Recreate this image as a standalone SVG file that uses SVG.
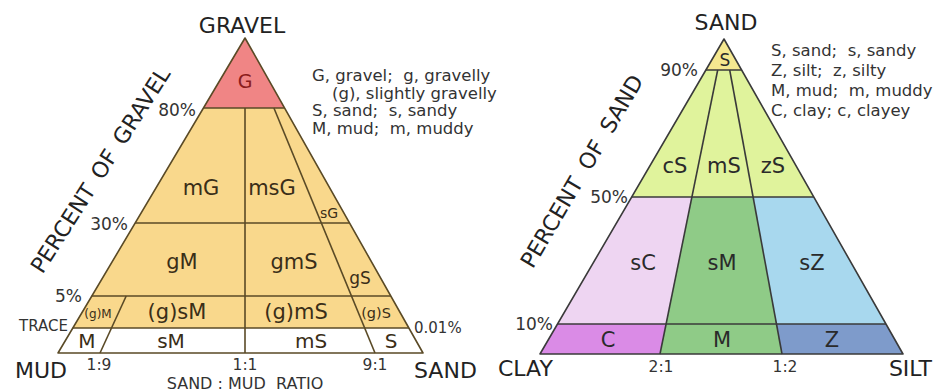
<svg xmlns="http://www.w3.org/2000/svg" width="947" height="392" viewBox="0 0 947 392">
<style>
text{font-family:"DejaVu Sans","Liberation Sans",sans-serif;}
.big{font-size:22px;fill:#222;}
.pct{font-size:17px;fill:#333;}
.leg{font-size:16.5px;fill:#333;}
.lab{font-size:21px;fill:#3a2e18;text-anchor:middle;}
.labr{font-size:21px;fill:#2a2a2a;text-anchor:middle;}
.sm{font-size:15.5px;fill:#333;text-anchor:middle;}
.ll{fill:none;stroke:#5a4a26;stroke-width:1.6;stroke-linejoin:round;}
.rl{fill:none;stroke:#3a3a3a;stroke-width:1.6;stroke-linejoin:round;}
</style>
<rect width="947" height="392" fill="#ffffff"/>

<!-- LEFT TRIANGLE: gravel-sand-mud -->
<g id="left-triangle">
  <g id="region-G"><polygon points="245,38 284.6,108 203.4,108" fill="#F08585"/></g>
  <g id="region-gravelly"><polygon points="203.4,108 284.6,108 408.9,328 72.8,328" fill="#F9D88C"/></g>
  <g id="left-lines">
    <polygon class="ll" points="245,38 423,353 58,353"/>
    <line class="ll" x1="203.4" y1="108" x2="284.6" y2="108"/>
    <line class="ll" x1="135.2" y1="223" x2="349.5" y2="223"/>
    <line class="ll" x1="91.8" y1="296" x2="390.8" y2="296"/>
    <line class="ll" x1="72.8" y1="328" x2="408.9" y2="328"/>
    <line class="ll" x1="245" y1="108" x2="245" y2="353"/>
    <line class="ll" x1="273.9" y1="108" x2="375" y2="353"/>
    <line class="ll" x1="126.2" y1="296" x2="100" y2="353"/>
  </g>
  <g id="left-labels">
    <text x="245" y="88" style="font-size:19px" fill="#8b1c1c" text-anchor="middle">G</text>
    <text class="lab" x="201" y="195">mG</text>
    <text class="lab" x="272" y="195">msG</text>
    <text class="lab" x="329" y="218" style="font-size:14px">sG</text>
    <text class="lab" x="182" y="269">gM</text>
    <text class="lab" x="294" y="269">gmS</text>
    <text class="lab" x="360" y="284" style="font-size:17px">gS</text>
    <text class="lab" x="177" y="319">(g)sM</text>
    <text class="lab" x="296" y="319">(g)mS</text>
    <text class="lab" x="376" y="318" style="font-size:14.5px">(g)S</text>
    <text class="lab" x="98" y="318" style="font-size:12px">(g)M</text>
    <text class="lab" x="87" y="348" style="font-size:20px">M</text>
    <text class="lab" x="171" y="348" style="font-size:20px">sM</text>
    <text class="lab" x="311" y="348" style="font-size:20px">mS</text>
    <text class="lab" x="391" y="348" style="font-size:20px">S</text>
  </g>
  <g id="left-axis">
    <text class="big" x="242" y="33" text-anchor="middle">GRAVEL</text>
    <text class="big" transform="translate(106.7,174.3) rotate(-57.4)" text-anchor="middle" word-spacing="4">PERCENT OF GRAVEL</text>
    <text class="pct" x="196" y="116" text-anchor="end">80%</text>
    <text class="pct" x="128" y="230" text-anchor="end">30%</text>
    <text class="pct" x="82" y="302" text-anchor="end">5%</text>
    <text class="pct" x="68" y="331" text-anchor="end" style="font-size:15px">TRACE</text>
    <text class="pct" x="414" y="333" style="font-size:15px">0.01%</text>
    <text class="big" x="15" y="378">MUD</text>
    <text class="big" x="414" y="378">SAND</text>
    <text class="sm" x="99" y="370">1:9</text>
    <text class="sm" x="245" y="370">1:1</text>
    <text class="sm" x="375" y="370">9:1</text>
    <text class="pct" x="245" y="389" text-anchor="middle" style="font-size:16px" xml:space="preserve">SAND : MUD  RATIO</text>
  </g>
  <g id="left-legend">
    <text class="leg" x="312" y="81" xml:space="preserve">G, gravel;  g, gravelly</text>
    <text class="leg" x="332" y="98.5">(g), slightly gravelly</text>
    <text class="leg" x="312" y="116" xml:space="preserve">S, sand;  s, sandy</text>
    <text class="leg" x="312" y="133.5" xml:space="preserve">M, mud;  m, muddy</text>
  </g>
</g>

<!-- RIGHT TRIANGLE: sand-silt-clay -->
<g id="right-triangle">
  <g id="region-S"><polygon points="724,39 741.6,70 705.9,70" fill="#F5E890"/></g>
  <g id="region-sandy"><polygon points="705.9,70 741.6,70 813.8,197 631.7,197" fill="#E0F39C"/></g>
  <g id="region-sC"><polygon points="631.7,197 691.9,197 666.1,324 557.5,324" fill="#EED5F2"/></g>
  <g id="region-sM"><polygon points="691.9,197 753.1,197 776.5,324 666.1,324" fill="#8FCB87"/></g>
  <g id="region-sZ"><polygon points="753.1,197 813.8,197 886,324 776.5,324" fill="#A8D8EE"/></g>
  <g id="region-C"><polygon points="557.5,324 666.1,324 660,354 540,354" fill="#DA8BE6"/></g>
  <g id="region-M"><polygon points="666.1,324 776.5,324 782,354 660,354" fill="#8FCB87"/></g>
  <g id="region-Z"><polygon points="776.5,324 886,324 903,354 782,354" fill="#7E9BCB"/></g>
  <g id="right-lines">
    <polygon class="rl" points="724,39 903,354 540,354"/>
    <line class="rl" x1="705.9" y1="70" x2="741.6" y2="70"/>
    <line class="rl" x1="631.7" y1="197" x2="813.8" y2="197"/>
    <line class="rl" x1="557.5" y1="324" x2="886" y2="324"/>
    <line class="rl" x1="717.7" y1="70" x2="660" y2="354"/>
    <line class="rl" x1="729.7" y1="70" x2="782" y2="354"/>
  </g>
  <g id="right-labels">
    <text class="labr" x="725" y="66" style="font-size:17px">S</text>
    <text class="labr" x="675" y="173">cS</text>
    <text class="labr" x="724" y="173">mS</text>
    <text class="labr" x="773" y="173">zS</text>
    <text class="labr" x="643" y="270">sC</text>
    <text class="labr" x="722" y="270">sM</text>
    <text class="labr" x="812" y="270">sZ</text>
    <text class="labr" x="608" y="347">C</text>
    <text class="labr" x="722" y="347">M</text>
    <text class="labr" x="832" y="347">Z</text>
  </g>
  <g id="right-axis">
    <text class="big" x="726" y="30" text-anchor="middle">SAND</text>
    <text class="big" transform="translate(588.4,175.1) rotate(-59.5)" text-anchor="middle" word-spacing="6">PERCENT OF SAND</text>
    <text class="pct" x="698" y="76" text-anchor="end">90%</text>
    <text class="pct" x="628" y="203" text-anchor="end">50%</text>
    <text class="pct" x="553" y="330" text-anchor="end">10%</text>
    <text class="big" x="498" y="376">CLAY</text>
    <text class="big" x="932" y="376" text-anchor="end">SILT</text>
    <text class="sm" x="661" y="372">2:1</text>
    <text class="sm" x="785" y="372">1:2</text>
  </g>
  <g id="right-legend">
    <text class="leg" x="771" y="56" xml:space="preserve">S, sand;  s, sandy</text>
    <text class="leg" x="771" y="76" xml:space="preserve">Z, silt;  z, silty</text>
    <text class="leg" x="771" y="96" xml:space="preserve">M, mud;  m, muddy</text>
    <text class="leg" x="771" y="116">C, clay; c, clayey</text>
  </g>
</g>
<g id="connectors"/>
</svg>
